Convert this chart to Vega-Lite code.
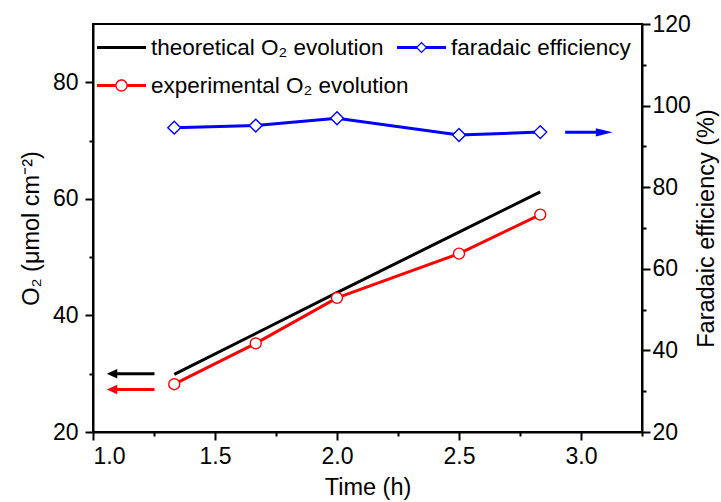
{
  "$schema": "https://vega.github.io/schema/vega-lite/v6.json",
  "width": 549,
  "height": 408,
  "autosize": {"type": "none"},
  "padding": {"left": 93, "top": 24, "right": 79, "bottom": 70},
  "config": {
    "font": "Liberation Sans",
    "view": {"stroke": "#000000", "strokeWidth": 2},
    "axis": {
      "grid": false,
      "domainColor": "#000000",
      "domainWidth": 2,
      "tickColor": "#000000",
      "tickWidth": 2,
      "labelColor": "#000000",
      "labelFont": "Liberation Sans",
      "labelFontSize": 23,
      "titleColor": "#000000",
      "titleFont": "Liberation Sans",
      "titleFontSize": 23.5,
      "titleFontWeight": "normal"
    },
    "legend": {
      "title": null,
      "orient": "none",
      "padding": 0,
      "rowPadding": 2,
      "symbolSize": 2401,
      "labelFont": "Liberation Sans",
      "labelFontSize": 22.5,
      "labelColor": "#000000",
      "labelOffset": 5,
      "labelLimit": 400
    }
  },
  "datasets": {
    "o2": [
      {"t": 1.333, "o2": 29.9, "series": "theoretical O₂ evolution"},
      {"t": 1.667, "o2": 36.9, "series": "theoretical O₂ evolution"},
      {"t": 2.0, "o2": 43.9, "series": "theoretical O₂ evolution"},
      {"t": 2.5, "o2": 54.3, "series": "theoretical O₂ evolution"},
      {"t": 2.833, "o2": 61.2, "series": "theoretical O₂ evolution"},
      {"t": 1.333, "o2": 28.2, "series": "experimental O₂ evolution"},
      {"t": 1.667, "o2": 35.2, "series": "experimental O₂ evolution"},
      {"t": 2.0, "o2": 43.0, "series": "experimental O₂ evolution"},
      {"t": 2.5, "o2": 50.6, "series": "experimental O₂ evolution"},
      {"t": 2.833, "o2": 57.3, "series": "experimental O₂ evolution"}
    ],
    "fe": [
      {"t": 1.333, "fe": 94.6, "series": "faradaic efficiency"},
      {"t": 1.667, "fe": 95.1, "series": "faradaic efficiency"},
      {"t": 2.0, "fe": 96.9, "series": "faradaic efficiency"},
      {"t": 2.5, "fe": 92.8, "series": "faradaic efficiency"},
      {"t": 2.833, "fe": 93.5, "series": "faradaic efficiency"}
    ],
    "o2Arrows": [
      {"t": 1.078, "o2": 30.0, "series": "theoretical O₂ evolution"},
      {"t": 1.252, "o2": 30.0, "series": "theoretical O₂ evolution"},
      {"t": 1.078, "o2": 27.3, "series": "experimental O₂ evolution"},
      {"t": 1.252, "o2": 27.3, "series": "experimental O₂ evolution"}
    ],
    "o2Heads": [
      {"t": 1.078, "o2": 30.0, "series": "theoretical O₂ evolution"},
      {"t": 1.078, "o2": 27.3, "series": "experimental O₂ evolution"}
    ],
    "feArrow": [
      {"t": 2.935, "fe": 93.45},
      {"t": 3.095, "fe": 93.45}
    ],
    "feHead": [
      {"t": 3.095, "fe": 93.45}
    ]
  },
  "resolve": {
    "scale": {"x": "independent", "y": "independent", "color": "independent"},
    "axis": {"x": "independent", "y": "independent"}
  },
  "layer": [
    {
      "data": {"name": "o2"},
      "mark": {"type": "line", "strokeWidth": 3},
      "encoding": {
        "x": {
          "field": "t", "type": "quantitative",
          "scale": {"domain": [1, 3.25], "nice": false, "zero": false},
          "axis": {"orient": "bottom", "values": [1, 1.5, 2, 2.5, 3], "format": ".1f", "tickSize": 8, "labelPadding": 5, "title": "Time (h)", "titlePadding": 7}
        },
        "y": {
          "field": "o2", "type": "quantitative",
          "scale": {"domain": [20, 90], "nice": false, "zero": false},
          "axis": {"orient": "left", "values": [20, 40, 60, 80], "tickSize": 8, "labelPadding": 7, "title": "O₂ (μmol cm⁻²)", "titlePadding": 9}
        },
        "color": {
          "field": "series", "type": "nominal",
          "scale": {
            "domain": ["theoretical O₂ evolution", "experimental O₂ evolution"],
            "range": ["#000000", "#ff0000"]
          },
          "legend": {
            "legendX": 4,
            "legendY": -1,
            "encode": {
              "symbols": {
                "update": {
                  "shape": {"signal": "indexof(datum.value, 'experimental') >= 0 ? 'M-1,-0.062H-0.25V0.062H-1Z M0.25,-0.062H1V0.062H0.25Z M-0.251,0A0.251,0.251 0 1,1 0.251,0A0.251,0.251 0 1,1 -0.251,0Z M-0.198,0A0.198,0.198 0 1,0 0.198,0A0.198,0.198 0 1,0 -0.198,0Z' : 'M-1,-0.062H1V0.062H-1Z'"},
                  "fill": {"signal": "indexof(datum.value, 'experimental') >= 0 ? '#ff0000' : '#000000'"},
                  "stroke": {"value": "transparent"},
                  "strokeWidth": {"value": 0},
                  "opacity": {"value": 1},
                  "fillOpacity": {"value": 1},
                  "size": {"value": 2401}
                }
              }
            }
          }
        }
      }
    },
    {
      "data": {"name": "o2"},
      "transform": [{"filter": "datum.series === 'experimental O₂ evolution'"}],
      "mark": {"type": "point", "shape": "circle", "size": 120, "filled": true, "fill": "#ffffff", "stroke": "#ff0000", "strokeWidth": 1.4, "opacity": 1},
      "encoding": {
        "x": {
          "field": "t", "type": "quantitative",
          "scale": {"domain": [1, 3.25], "nice": false, "zero": false},
          "axis": {"orient": "bottom", "values": [1.25, 1.75, 2.25, 2.75, 3.25], "tickSize": 4, "labels": false, "domain": false, "title": null}
        },
        "y": {
          "field": "o2", "type": "quantitative",
          "scale": {"domain": [20, 90], "nice": false, "zero": false},
          "axis": {"orient": "left", "values": [30, 50, 70], "tickSize": 4, "labels": false, "domain": false, "title": null}
        }
      }
    },
    {
      "data": {"name": "o2Arrows"},
      "mark": {"type": "line", "strokeWidth": 3},
      "encoding": {
        "x": {"field": "t", "type": "quantitative", "scale": {"domain": [1, 3.25], "nice": false, "zero": false}, "axis": null},
        "y": {"field": "o2", "type": "quantitative", "scale": {"domain": [20, 90], "nice": false, "zero": false}, "axis": null},
        "color": {
          "field": "series", "type": "nominal",
          "scale": {
            "domain": ["theoretical O₂ evolution", "experimental O₂ evolution"],
            "range": ["#000000", "#ff0000"]
          },
          "legend": null
        }
      }
    },
    {
      "data": {"name": "o2Heads"},
      "mark": {"type": "point", "shape": "M-1,0L1,-0.9L1,0.9Z", "size": 110, "filled": true, "opacity": 1, "strokeWidth": 0},
      "encoding": {
        "x": {"field": "t", "type": "quantitative", "scale": {"domain": [1, 3.25], "nice": false, "zero": false}, "axis": null},
        "y": {"field": "o2", "type": "quantitative", "scale": {"domain": [20, 90], "nice": false, "zero": false}, "axis": null},
        "color": {
          "field": "series", "type": "nominal",
          "scale": {
            "domain": ["theoretical O₂ evolution", "experimental O₂ evolution"],
            "range": ["#000000", "#ff0000"]
          },
          "legend": null
        }
      }
    },
    {
      "data": {"name": "fe"},
      "mark": {"type": "line", "strokeWidth": 3},
      "encoding": {
        "x": {"field": "t", "type": "quantitative", "scale": {"domain": [1, 3.25], "nice": false, "zero": false}, "axis": null},
        "y": {
          "field": "fe", "type": "quantitative",
          "scale": {"domain": [20, 120], "nice": false, "zero": false},
          "axis": {"orient": "right", "values": [20, 40, 60, 80, 100, 120], "tickSize": 8, "labelPadding": 2, "title": "Faradaic efficiency (%)", "titleAngle": -90, "titleBaseline": "top", "titlePadding": 4}
        },
        "color": {
          "field": "series", "type": "nominal",
          "scale": {"domain": ["faradaic efficiency"], "range": ["#0000ff"]},
          "legend": {
            "legendX": 304,
            "legendY": -1,
            "encode": {
              "symbols": {
                "update": {
                  "shape": {"value": "M-1,-0.062H-0.18V0.062H-1Z M0.18,-0.062H1V0.062H0.18Z M-0.239,0L0,-0.239L0.239,0L0,0.239Z M-0.165,0L0,0.165L0.165,0L0,-0.165Z"},
                  "fill": {"value": "#0000ff"},
                  "stroke": {"value": "transparent"},
                  "strokeWidth": {"value": 0},
                  "opacity": {"value": 1},
                  "fillOpacity": {"value": 1},
                  "size": {"value": 2401}
                }
              }
            }
          }
        }
      }
    },
    {
      "data": {"name": "fe"},
      "mark": {"type": "point", "shape": "diamond", "size": 165, "filled": true, "fill": "#ffffff", "stroke": "#0000ff", "strokeWidth": 1.4, "opacity": 1},
      "encoding": {
        "x": {"field": "t", "type": "quantitative", "scale": {"domain": [1, 3.25], "nice": false, "zero": false}, "axis": null},
        "y": {
          "field": "fe", "type": "quantitative",
          "scale": {"domain": [20, 120], "nice": false, "zero": false},
          "axis": {"orient": "right", "values": [30, 50, 70, 90, 110], "tickSize": 4, "labels": false, "domain": false, "title": null}
        }
      }
    },
    {
      "data": {"name": "feArrow"},
      "mark": {"type": "line", "strokeWidth": 3, "color": "#0000ff"},
      "encoding": {
        "x": {"field": "t", "type": "quantitative", "scale": {"domain": [1, 3.25], "nice": false, "zero": false}, "axis": null},
        "y": {"field": "fe", "type": "quantitative", "scale": {"domain": [20, 120], "nice": false, "zero": false}, "axis": null}
      }
    },
    {
      "data": {"name": "feHead"},
      "mark": {"type": "point", "shape": "M1,0L-1,-0.5L-1,0.5Z", "size": 280, "filled": true, "color": "#0000ff", "opacity": 1, "strokeWidth": 0},
      "encoding": {
        "x": {"field": "t", "type": "quantitative", "scale": {"domain": [1, 3.25], "nice": false, "zero": false}, "axis": null},
        "y": {"field": "fe", "type": "quantitative", "scale": {"domain": [20, 120], "nice": false, "zero": false}, "axis": null}
      }
    }
  ]
}
